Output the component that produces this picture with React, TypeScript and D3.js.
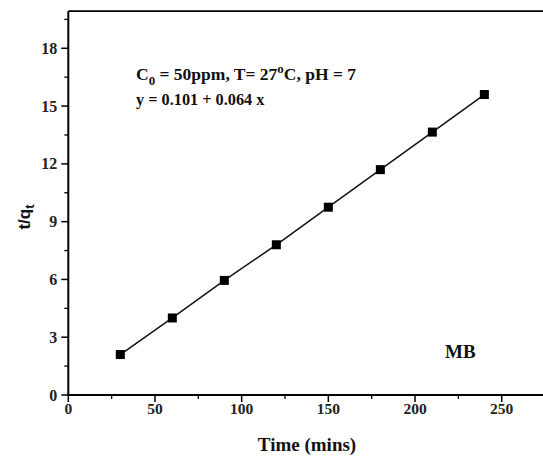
import React from "react";
import * as d3 from "d3";

const times = [30, 60, 90, 120, 150, 180, 210, 240];
const tq = [2.1, 4.0, 5.95, 7.8, 9.75, 11.7, 13.65, 15.6];
const xTicks = [0, 50, 100, 150, 200, 250];
const xMinor = [25, 75, 125, 175, 225, 275];
const yTicks = [0, 3, 6, 9, 12, 15, 18];
const yMinor = [1.5, 4.5, 7.5, 10.5, 13.5, 16.5, 19.5];

const W = 543;
const H = 457;
const left = 68.3;
const bottom = 395;

export default function App() {
  const x = d3.scaleLinear().domain([0, 250]).range([left, 501.7]);
  const y = d3.scaleLinear().domain([0, 18]).range([bottom, 48.3]);
  const top = y(19.93);
  const right = x(280);
  const line = d3
    .line<number>()
    .x((_, i) => x(times[i]))
    .y((d) => y(d));
  const serif = "'Liberation Serif', 'Times New Roman', serif";
  return (
    <svg
      width={W}
      height={H}
      style={{ position: "absolute", left: 0, top: 0, background: "#fff" }}
      fontFamily={serif}
    >
      <rect x={0} y={0} width={W} height={H} fill="#fff" />
      {/* frame */}
      <line x1={left} x2={right} y1={top} y2={top} stroke="#000" strokeWidth={1.8} />
      <line x1={left} x2={left} y1={top} y2={bottom} stroke="#000" strokeWidth={2} />
      <line x1={left - 1} x2={right} y1={bottom} y2={bottom} stroke="#000" strokeWidth={2} />
      {/* y ticks */}
      {yTicks.map((t) => (
        <g key={"y" + t}>
          <line x1={left - 7} x2={left} y1={y(t)} y2={y(t)} stroke="#000" strokeWidth={1.5} />
          <text x={left - 11} y={y(t)} dy="0.35em" textAnchor="end" fontSize={16} fontWeight="bold" fill="#222">
            {t}
          </text>
        </g>
      ))}
      {yMinor.map((t) => (
        <line key={"ym" + t} x1={left - 4} x2={left} y1={y(t)} y2={y(t)} stroke="#000" strokeWidth={1.3} />
      ))}
      {/* x ticks */}
      {xTicks.map((t) => (
        <g key={"x" + t}>
          <line x1={x(t)} x2={x(t)} y1={bottom} y2={bottom + 7} stroke="#000" strokeWidth={1.5} />
          <text x={x(t)} y={bottom + 19} textAnchor="middle" fontSize={15.5} fontWeight="bold" fill="#222">
            {t}
          </text>
        </g>
      ))}
      {xMinor.map((t) => (
        <line key={"xm" + t} x1={x(t)} x2={x(t)} y1={bottom} y2={bottom + 4} stroke="#000" strokeWidth={1.3} />
      ))}
      {/* data */}
      <path d={line(tq) || ""} fill="none" stroke="#111" strokeWidth={1.5} />
      {tq.map((v, i) => (
        <rect key={i} x={x(times[i]) - 4.5} y={y(v) - 4.5} width={9} height={9} fill="#000" />
      ))}
      {/* annotations */}
      <text x={136} y={80} fontSize={17.5} fontWeight="bold" fill="#111">
        C<tspan fontSize={13} dy={5}>0</tspan>
        <tspan dy={-5}> = 50ppm, T= 27</tspan>
        <tspan fontSize={13} dy={-7}>o</tspan>
        <tspan dy={7}>C, pH = 7</tspan>
      </text>
      <text x={136} y={105} fontSize={16.3} fontWeight="bold" fill="#111">
        y = 0.101 + 0.064 x
      </text>
      <text x={445} y={358} fontSize={19} fontWeight="bold" fill="#111">
        MB
      </text>
      {/* axis titles */}
      <text x={307} y={451} textAnchor="middle" fontSize={19} fontWeight="bold" fill="#111">
        Time (mins)
      </text>
      <text
        transform={`translate(30, ${217}) rotate(-90)`}
        textAnchor="middle"
        fontSize={17}
        fontWeight="bold"
        fontFamily="'Liberation Sans', Arial, sans-serif"
        fill="#111"
      >
        t/q<tspan fontSize={13} dy={4}>t</tspan>
      </text>
    </svg>
  );
}
